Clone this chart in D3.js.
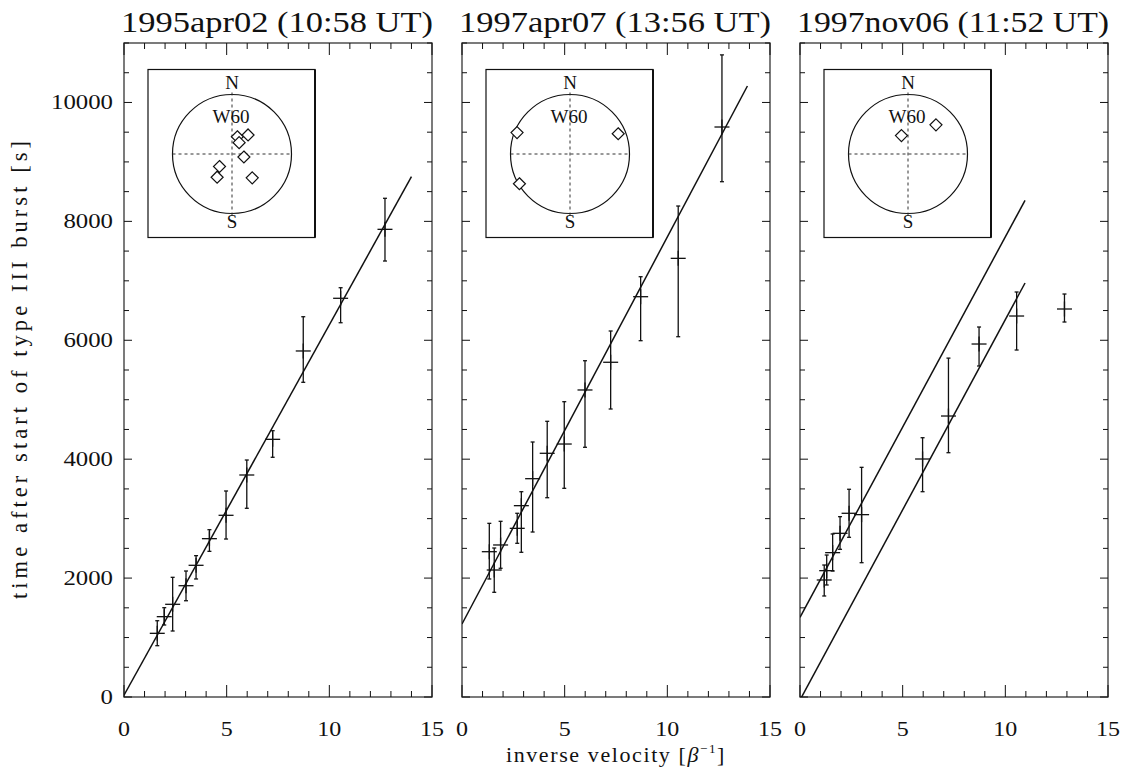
<!DOCTYPE html>
<html>
<head>
<meta charset="utf-8">
<script src="https://cdn.jsdelivr.net/npm/d3@7"></script>
<style>
  html, body { margin: 0; padding: 0; background: #fff; }
  svg text { font-family: "Liberation Serif", "DejaVu Serif", serif; fill: #111; }
</style>
</head>
<body>
<svg id="chart" width="1125" height="772"></svg>
<script>
// ---- event titles ----
const eventTitles = ["1995apr02 (10:58 UT)", "1997apr07 (13:56 UT)", "1997nov06 (11:52 UT)"];

// ---- 1995apr02: inverse velocity, time and error limits [s] ----
const invVel1 = [1.62, 1.96, 2.37, 3.02, 3.51, 4.16, 4.97, 5.98, 7.24, 8.73, 10.55, 12.71];
const time1   = [1071, 1351, 1559, 1872, 2215, 2663, 3056, 3734, 4334, 5820, 6706, 7866];
const timeLo1 = [863, 1211, 1110, 1619, 1985, 2450, 2657, 3174, 4032, 5293, 6295, 7333];
const timeHi1 = [1283, 1502, 2013, 2119, 2377, 2814, 3465, 3986, 4479, 6396, 6884, 8388];

// ---- 1997apr07 ----
const invVel2 = [1.33, 1.57, 1.88, 2.69, 2.89, 3.44, 4.15, 4.98, 5.99, 7.24, 8.70, 10.53, 12.66];
const time2   = [2444, 2136, 2557, 2837, 3218, 3672, 4099, 4255, 5164, 5630, 6733, 7378, 9587];
const timeLo2 = [1985, 1761, 2165, 2585, 2434, 2775, 3352, 3510, 4200, 4844, 5993, 6060, 8667];
const timeHi2 = [2921, 2506, 2955, 3090, 3453, 4289, 4637, 4967, 5656, 6156, 7069, 8258, 10800];

// ---- 1997nov06 ----
const invVel3 = [1.18, 1.30, 1.59, 1.95, 2.39, 3.00, 5.97, 7.23, 8.72, 10.55, 12.88];
const time3   = [1968, 2125, 2428, 2753, 3090, 3067, 4003, 4726, 5937, 6408, 6526];
const timeLo3 = [1699, 1884, 2119, 2484, 2686, 2259, 3453, 4109, 5567, 5836, 6307];
const timeHi3 = [2220, 2388, 2742, 3033, 3494, 3863, 4361, 5700, 6223, 6812, 6778];

// ---- linear fits t = t0 + slope * (1/beta), drawn up to vMax ----
const fitIntercept1 = [30];    const fitSlope1 = [623]; const fitEnd1 = [14.0];
const fitIntercept2 = [1228];  const fitSlope2 = [651]; const fitEnd2 = [13.9];
const fitIntercept3 = [1340, -51]; const fitSlope3 = [640, 640]; const fitEnd3 = [10.96, 10.96];

// ---- flare sites on the solar disc (units of solar radius, x = west, y = north) ----
const discX1 = [0.09, 0.27, 0.12, 0.20, -0.21, -0.25, 0.34];
const discY1 = [0.29, 0.32, 0.19, -0.05, -0.21, -0.39, -0.40];
const discX2 = [-0.89, 0.81, -0.85];
const discY2 = [0.36, 0.34, -0.50];
const discX3 = [-0.11, 0.47];
const discY3 = [0.31, 0.49];

// ---- axis ticks ----
const xTickLabels = [0, 5, 10, 15];
const yTickLabels = [0, 2000, 4000, 6000, 8000, 10000];
const xDomain = [0, 15];
const yDomain = [0, 11000];

const panels = [
  { title: eventTitles[0], v: invVel1, t: time1, lo: timeLo1, hi: timeHi1,
    fits: fitIntercept1.map((a, i) => ({ a, b: fitSlope1[i], end: fitEnd1[i] })),
    sites: discX1.map((x, i) => [x, discY1[i]]) },
  { title: eventTitles[1], v: invVel2, t: time2, lo: timeLo2, hi: timeHi2,
    fits: fitIntercept2.map((a, i) => ({ a, b: fitSlope2[i], end: fitEnd2[i] })),
    sites: discX2.map((x, i) => [x, discY2[i]]) },
  { title: eventTitles[2], v: invVel3, t: time3, lo: timeLo3, hi: timeHi3,
    fits: fitIntercept3.map((a, i) => ({ a, b: fitSlope3[i], end: fitEnd3[i] })),
    sites: discX3.map((x, i) => [x, discY3[i]]) }
];

const svg = d3.select("#chart");
svg.append("rect").attr("width", 1125).attr("height", 772).attr("fill", "#fff");

const panelLefts = [124, 462, 800];
const panelW = 308, plotTop = 43, plotBottom = 697;
const yScale = d3.scaleLinear().domain(yDomain).range([plotBottom, plotTop]);

const ink = "#111";

panels.forEach((p, pi) => {
  const left = panelLefts[pi];
  const x = d3.scaleLinear().domain(xDomain).range([left, left + panelW]);
  const y = yScale;
  const g = svg.append("g");

  const clipId = "clip" + pi;
  svg.append("clipPath").attr("id", clipId)
    .append("rect").attr("x", left).attr("y", plotTop).attr("width", panelW).attr("height", plotBottom - plotTop);

  // frame
  g.append("rect").attr("x", left).attr("y", plotTop).attr("width", panelW).attr("height", plotBottom - plotTop)
    .attr("fill", "none").attr("stroke", "#444").attr("stroke-width", 1.4);

  // x ticks: major every 5, minor every 1, on bottom and top
  d3.range(xDomain[0], xDomain[1] + 0.001, 1).forEach(v => {
    const major = v % 5 === 0;
    const len = major ? 12 : 6;
    g.append("line").attr("x1", x(v)).attr("x2", x(v)).attr("y1", plotBottom).attr("y2", plotBottom - len)
      .attr("stroke", ink).attr("stroke-width", 1);
    g.append("line").attr("x1", x(v)).attr("x2", x(v)).attr("y1", plotTop).attr("y2", plotTop + len)
      .attr("stroke", ink).attr("stroke-width", 1);
  });
  // y ticks: major every 2000, minor every 500, on left and right
  d3.range(yDomain[0], yDomain[1] + 1, 500).forEach(t => {
    const major = t % 2000 === 0;
    const len = major ? 8 : 5;
    g.append("line").attr("x1", left).attr("x2", left + len).attr("y1", y(t)).attr("y2", y(t))
      .attr("stroke", ink).attr("stroke-width", 1);
    g.append("line").attr("x1", left + panelW).attr("x2", left + panelW - len).attr("y1", y(t)).attr("y2", y(t))
      .attr("stroke", ink).attr("stroke-width", 1);
  });

  // x tick labels
  xTickLabels.forEach(v => {
    const s = String(v);
    g.append("text").attr("x", x(v)).attr("y", 736).attr("text-anchor", "middle")
      .attr("font-size", 21).attr("textLength", s.length * 12).attr("lengthAdjust", "spacingAndGlyphs")
      .text(s);
  });

  // y tick labels on the first panel only
  if (pi === 0) {
    yTickLabels.forEach(t => {
      const s = String(t);
      g.append("text").attr("x", left - 11).attr("y", y(t) + 7).attr("text-anchor", "end")
        .attr("font-size", 21).attr("textLength", s.length * 12.4).attr("lengthAdjust", "spacingAndGlyphs")
        .text(s);
    });
  }

  // title
  g.append("text").attr("x", left + panelW / 2 - 1).attr("y", 32).attr("text-anchor", "middle")
    .attr("font-size", 29).attr("textLength", 312).attr("lengthAdjust", "spacingAndGlyphs")
    .text(p.title);

  // fitted lines
  const line = d3.line().x(d => x(d[0])).y(d => y(d[1]));
  const fitG = g.append("g").attr("clip-path", `url(#${clipId})`);
  p.fits.forEach(f => {
    fitG.append("path")
      .attr("d", line([[0, f.a], [f.end, f.a + f.b * f.end]]))
      .attr("fill", "none").attr("stroke", ink).attr("stroke-width", 1.5);
  });

  // data: plus markers with vertical error bars and small caps
  const dg = g.append("g").attr("clip-path", `url(#${clipId})`);
  p.v.forEach((v, i) => {
    const cx = x(v), cy = y(p.t[i]);
    const yl = y(p.lo[i]), yh = y(p.hi[i]);
    dg.append("line").attr("x1", cx).attr("x2", cx).attr("y1", yh).attr("y2", yl)
      .attr("stroke", ink).attr("stroke-width", 1.3);
    [yh, yl].forEach(yy => dg.append("line").attr("x1", cx - 2).attr("x2", cx + 2)
      .attr("y1", yy).attr("y2", yy).attr("stroke", ink).attr("stroke-width", 1.3));
    dg.append("line").attr("x1", cx - 7.5).attr("x2", cx + 7.5).attr("y1", cy).attr("y2", cy)
      .attr("stroke", ink).attr("stroke-width", 1.3);
    dg.append("line").attr("x1", cx).attr("x2", cx).attr("y1", cy - 7.5).attr("y2", cy + 7.5)
      .attr("stroke", ink).attr("stroke-width", 1.3);
  });

  // inset: solar disc with flare sites
  const bx = left + 24, by = 69.5, bw = 167, bh = 168;
  const ig = g.append("g");
  ig.append("rect").attr("x", bx).attr("y", by).attr("width", bw).attr("height", bh)
    .attr("fill", "#fff").attr("stroke", ink).attr("stroke-width", 1.2);
  ig.append("line").attr("x1", bx + bw).attr("x2", bx + bw).attr("y1", by).attr("y2", by + bh)
    .attr("stroke", ink).attr("stroke-width", 2);
  const ccx = bx + 84, ccy = by + 84.5, R = 59.5;
  const dx = d3.scaleLinear().domain([-1, 1]).range([ccx - R, ccx + R]);
  const dy = d3.scaleLinear().domain([-1, 1]).range([ccy + R, ccy - R]);
  ig.append("circle").attr("cx", ccx).attr("cy", ccy).attr("r", R)
    .attr("fill", "none").attr("stroke", ink).attr("stroke-width", 1.2);
  ig.append("line").attr("x1", dx(-1)).attr("x2", dx(1)).attr("y1", ccy).attr("y2", ccy)
    .attr("stroke", "#333").attr("stroke-width", 1).attr("stroke-dasharray", "3,3");
  ig.append("line").attr("x1", ccx).attr("x2", ccx).attr("y1", dy(1) - 2).attr("y2", dy(-1) + 2)
    .attr("stroke", "#333").attr("stroke-width", 1).attr("stroke-dasharray", "3,3");
  ig.append("text").attr("x", ccx).attr("y", ccy - 65).attr("text-anchor", "middle")
    .attr("font-size", 19).text("N");
  ig.append("text").attr("x", ccx).attr("y", ccy + 74).attr("text-anchor", "middle")
    .attr("font-size", 19).text("S");
  ig.append("text").attr("x", ccx - 1).attr("y", ccy - 31).attr("text-anchor", "middle")
    .attr("font-size", 19).attr("textLength", 37).attr("lengthAdjust", "spacingAndGlyphs").text("W60");
  const dsz = 6;
  p.sites.forEach(s => {
    const px = dx(s[0]), py = dy(s[1]);
    ig.append("path")
      .attr("d", `M${px},${py - dsz}L${px + dsz},${py}L${px},${py + dsz}L${px - dsz},${py}Z`)
      .attr("fill", "#fff").attr("stroke", ink).attr("stroke-width", 1.2);
  });
});

// axis titles
svg.append("text").attr("transform", `translate(27,${(plotTop + plotBottom) / 2}) rotate(-90)`)
  .attr("text-anchor", "middle").attr("font-size", 22.5)
  .attr("textLength", 458).attr("lengthAdjust", "spacing")
  .text("time after start of type III burst [s]");

const xt = svg.append("text").attr("x", 616).attr("y", 762).attr("text-anchor", "middle")
  .attr("font-size", 22).attr("letter-spacing", 1.6);
xt.append("tspan").text("inverse velocity [");
xt.append("tspan").attr("font-style", "italic").text("β");
xt.append("tspan").attr("font-size", 13).attr("dy", -9).text("−1");
xt.append("tspan").attr("dy", 9).text("]");
</script>
</body>
</html>
